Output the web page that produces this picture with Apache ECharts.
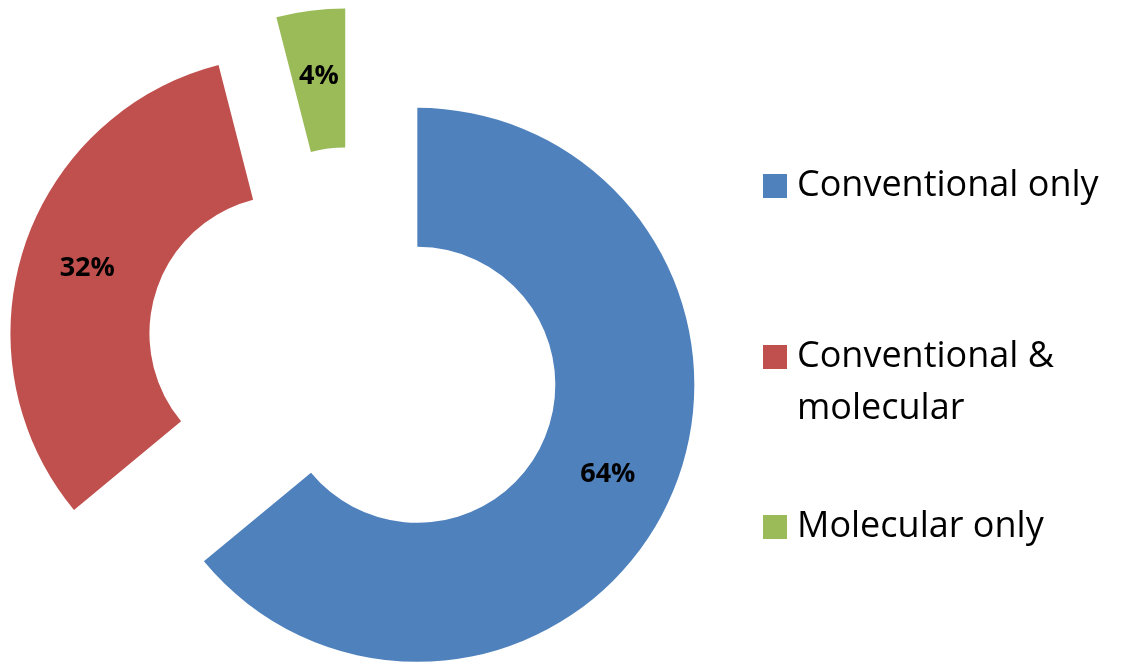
<!DOCTYPE html>
<html>
<head>
<meta charset="utf-8">
<script src="https://cdn.jsdelivr.net/npm/echarts@6/dist/echarts.min.js"></script>
<style>
  html, body { margin: 0; padding: 0; background: #ffffff; }
  #chart { width: 1128px; height: 663px; }
</style>
</head>
<body>
<div id="chart"></div>
<script>
// Share of cases by detection approach
const categories = ['Conventional only', 'Conventional & molecular', 'Molecular only'];
const shares = [64, 32, 4];
const colors = ['#4F81BD', '#C0504D', '#9BBB59'];
// Legend text lines per entry; the leading blank line keeps the swatch level with the first line
const legendLines = [['Conventional only'], ['', 'Conventional &', 'molecular'], ['Molecular only']];

const FONT = 'Open Sans';
const LINE = 52;
const legendTops = [160, 279, 501];

const chart = echarts.init(document.getElementById('chart'), null, { renderer: 'canvas' });

const legends = categories.map((name, i) => ({
  data: [name],
  orient: 'vertical',
  left: 763,
  top: legendTops[i],
  padding: 0,
  icon: 'rect',
  itemWidth: 24,
  itemHeight: 24,
  itemGap: 0,
  selectedMode: false,
  formatter: () => legendLines[i].map(s => '{t|' + s + '}').join('\n'),
  textStyle: {
    fontFamily: FONT,
    fontSize: 36,
    color: '#000000',
    lineHeight: LINE,
    rich: {
      t: {
        fontFamily: FONT,
        fontSize: 36,
        color: '#000000',
        lineHeight: LINE,
        padding: [0, 0, 0, 5]
      }
    }
  }
}));

chart.setOption({
  backgroundColor: '#ffffff',
  animation: false,
  color: colors,
  legend: legends,
  series: [{
    type: 'pie',
    center: [354, 355],
    radius: [138, 277],
    startAngle: 90,
    clockwise: true,
    selectedMode: 'multiple',
    selectedOffset: 70,
    avoidLabelOverlap: false,
    label: {
      show: true,
      position: 'inside',
      formatter: '{c}%',
      fontFamily: FONT,
      fontWeight: 'bold',
      fontSize: 27,
      color: '#000000'
    },
    labelLine: { show: false },
    emphasis: { disabled: true },
    data: categories.map((name, i) => ({ name: name, value: shares[i], selected: true }))
  }]
});
</script>
</body>
</html>
